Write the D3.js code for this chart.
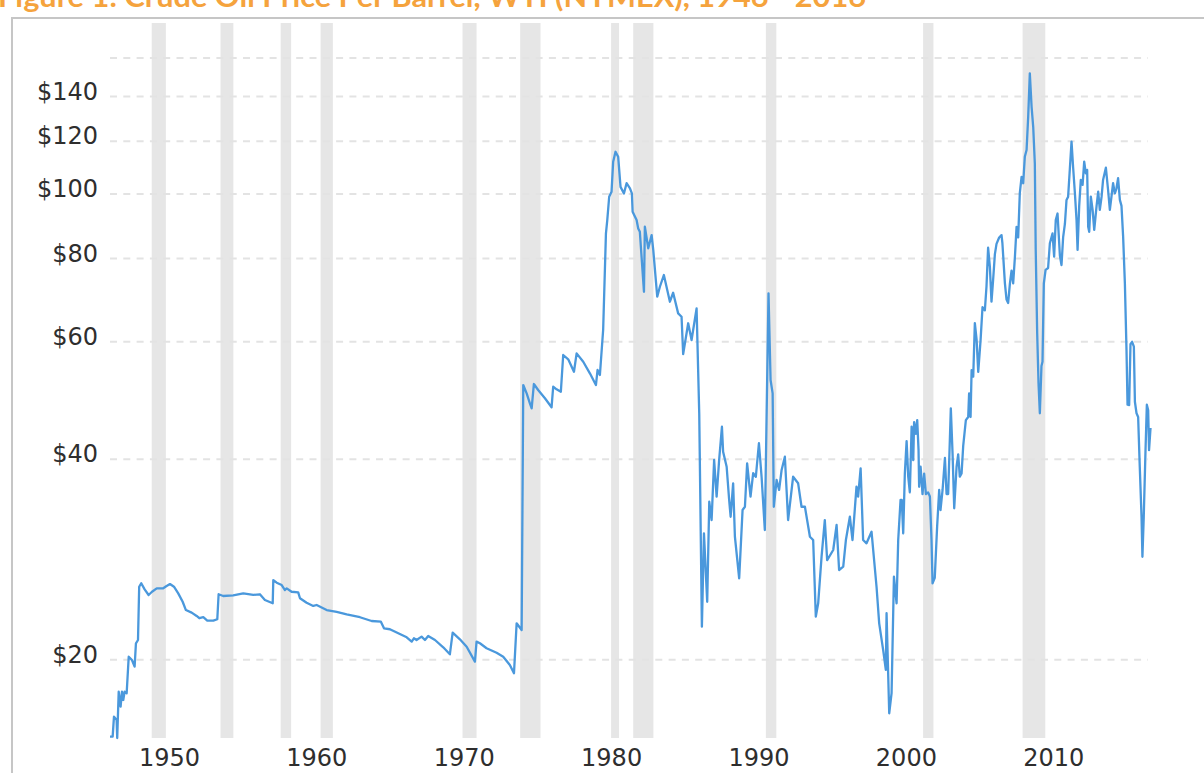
<head>
<meta charset="utf-8">
<style>
body {
  margin: 0;
  background: #fff;
  overflow: hidden;
}
.grid line {
  stroke: #e3e3e3;
  stroke-width: 2;
  stroke-dasharray: 7, 6.3;
}
.axis text {
  font-family: "DejaVu Sans", Verdana, sans-serif;
  font-size: 24px;
  fill: #2e2e2e;
}
.title {
  font-family: "Century Gothic", Lato, "Noto Sans", sans-serif;
  font-weight: bold;
  font-size: 28px;
  fill: #f5a33d;
}
</style>
<script src="https://cdn.jsdelivr.net/npm/d3@7"></script>
</head>
<body>
<div id="chart"></div>
<script>

var title = "Figure 1: Crude Oil Price Per Barrel, WTI (NYMEX), 1946 - 2016";

// monthly-ish samples, inflation adjusted $ per barrel
var years = [
  1946.00, 1946.18, 1946.27, 1946.45, 1946.49, 1946.59, 1946.72, 1946.81, 1946.90, 1946.99,
  1947.13, 1947.27, 1947.49, 1947.67, 1947.76, 1947.90, 1947.98, 1948.12, 1948.35, 1948.62,
  1948.85, 1949.17, 1949.61, 1949.84, 1950.07, 1950.34, 1950.63, 1950.93, 1951.15, 1951.54,
  1951.88, 1952.06, 1952.33, 1952.60, 1953.01, 1953.28, 1953.37, 1953.68, 1954.36, 1955.04,
  1955.72, 1956.17, 1956.51, 1957.04, 1957.08, 1957.31, 1957.65, 1957.87, 1957.99, 1958.32,
  1958.77, 1958.89, 1959.34, 1959.79, 1960.02, 1960.70, 1961.38, 1962.06, 1962.96, 1963.75,
  1964.38, 1964.59, 1964.99, 1965.56, 1966.13, 1966.47, 1966.62, 1966.80, 1967.14, 1967.37,
  1967.59, 1968.05, 1968.61, 1969.06, 1969.25, 1969.74, 1970.20, 1970.76, 1970.87, 1971.10,
  1971.55, 1972.23, 1972.68, 1973.13, 1973.41, 1973.59, 1973.93, 1974.04, 1974.27, 1974.49,
  1974.61, 1974.76, 1975.05, 1975.51, 1975.96, 1976.07, 1976.30, 1976.59, 1976.75, 1977.09,
  1977.48, 1977.66, 1978.11, 1978.56, 1978.97, 1979.08, 1979.24, 1979.46, 1979.65, 1979.74,
  1979.87, 1980.03, 1980.14, 1980.30, 1980.48, 1980.64, 1980.87, 1981.05, 1981.28, 1981.41,
  1981.46, 1981.73, 1981.84, 1981.95, 1982.23, 1982.29, 1982.52, 1982.75, 1982.86, 1983.13,
  1983.31, 1983.58, 1983.99, 1984.21, 1984.55, 1984.78, 1984.89, 1985.23, 1985.46, 1985.80,
  1985.98, 1986.16, 1986.30, 1986.52, 1986.66, 1986.82, 1986.99, 1987.16, 1987.33, 1987.52,
  1987.60, 1987.84, 1988.01, 1988.11, 1988.28, 1988.40, 1988.69, 1988.92, 1989.08, 1989.23,
  1989.46, 1989.64, 1989.82, 1990.03, 1990.21, 1990.43, 1990.68, 1990.82, 1990.96, 1991.04,
  1991.23, 1991.40, 1991.57, 1991.79, 1992.01, 1992.35, 1992.69, 1992.92, 1993.15, 1993.49,
  1993.71, 1993.89, 1994.05, 1994.28, 1994.50, 1994.66, 1995.07, 1995.30, 1995.47, 1995.75,
  1995.93, 1996.20, 1996.38, 1996.65, 1996.76, 1996.93, 1997.10, 1997.33, 1997.67, 1998.01,
  1998.19, 1998.46, 1998.64, 1998.69, 1998.87, 1999.03, 1999.19, 1999.37, 1999.48, 1999.64,
  1999.72, 1999.82, 1999.93, 2000.05, 2000.16, 2000.27, 2000.39, 2000.50, 2000.56, 2000.68,
  2000.77, 2000.86, 2000.90, 2001.00, 2001.13, 2001.24, 2001.36, 2001.51, 2001.63, 2001.74,
  2001.81, 2001.96, 2002.12, 2002.26, 2002.35, 2002.49, 2002.65, 2002.76, 2002.87, 2003.05,
  2003.17, 2003.28, 2003.44, 2003.55, 2003.66, 2003.78, 2003.89, 2004.07, 2004.23, 2004.29,
  2004.39, 2004.46, 2004.57, 2004.68, 2004.80, 2004.91, 2005.07, 2005.20, 2005.36, 2005.47,
  2005.58, 2005.70, 2005.81, 2005.92, 2006.04, 2006.15, 2006.33, 2006.49, 2006.55, 2006.72,
  2006.83, 2006.94, 2007.06, 2007.17, 2007.28, 2007.40, 2007.51, 2007.62, 2007.73, 2007.85,
  2007.96, 2008.07, 2008.19, 2008.30, 2008.41, 2008.53, 2008.64, 2008.75, 2008.81, 2008.91,
  2009.00, 2009.09, 2009.20, 2009.27, 2009.36, 2009.48, 2009.65, 2009.77, 2009.95, 2010.06,
  2010.17, 2010.29, 2010.45, 2010.56, 2010.67, 2010.79, 2010.90, 2011.01, 2011.13, 2011.24,
  2011.35, 2011.47, 2011.58, 2011.65, 2011.76, 2011.87, 2011.99, 2012.10, 2012.21, 2012.30,
  2012.37, 2012.44, 2012.55, 2012.67, 2012.78, 2012.94, 2013.05, 2013.16, 2013.28, 2013.38,
  2013.57, 2013.72, 2013.84, 2013.95, 2014.06, 2014.18, 2014.29, 2014.40, 2014.52, 2014.63,
  2014.74, 2014.86, 2014.97, 2015.04, 2015.15, 2015.24, 2015.35, 2015.47, 2015.54, 2015.65,
  2015.76, 2015.87, 2015.99, 2016.05, 2016.14, 2016.26, 2016.35, 2016.44, 2016.50, 2016.60
];

var prices = [
  15.31, 15.31, 16.41, 16.22, 15.24, 17.88, 16.98, 17.88, 17.38, 17.88,
  17.79, 20.18, 19.95, 19.50, 21.14, 21.38, 25.70, 26.01, 25.47, 24.98,
  25.26, 25.56, 25.56, 25.76, 25.94, 25.70, 25.12, 24.40, 23.71, 23.50,
  23.23, 23.05, 23.13, 22.86, 22.86, 22.97, 25.04, 24.89, 24.95, 25.12,
  24.98, 25.04, 24.55, 24.27, 26.30, 26.06, 25.85, 25.41, 25.56, 25.26,
  25.21, 24.70, 24.32, 24.05, 24.13, 23.71, 23.57, 23.36, 23.13, 22.83,
  22.78, 22.26, 22.19, 21.88, 21.58, 21.26, 21.51, 21.38, 21.63, 21.38,
  21.68, 21.38, 20.85, 20.35, 21.93, 21.43, 20.89, 19.84, 21.26, 21.14,
  20.78, 20.46, 20.18, 19.61, 19.06, 22.65, 22.13, 51.59, 50.13, 48.43,
  47.60, 51.77, 50.71, 49.28, 47.77, 51.29, 50.83, 50.41, 57.23, 56.38,
  54.02, 57.56, 55.92, 53.72, 51.59, 54.34, 53.41, 62.39, 87.13, 91.23,
  98.88, 100.6, 111.6, 115.5, 113.5, 102.3, 100.0, 103.6, 101.8, 100.0,
  93.87, 91.23, 88.61, 87.58, 71.20, 89.13, 82.75, 86.61, 82.27, 70.00,
  72.45, 75.45, 68.80, 70.96, 66.08, 65.31, 57.40, 63.86, 60.27, 67.24,
  46.79, 22.39, 30.91, 24.40, 34.47, 32.36, 39.82, 35.08, 39.82, 44.67,
  40.98, 38.90, 34.68, 32.73, 36.74, 30.55, 26.46, 33.50, 33.88, 39.37,
  35.08, 38.04, 37.58, 42.19, 37.58, 31.26, 70.81, 52.49, 50.13, 33.88,
  37.16, 35.91, 38.47, 40.27, 32.36, 37.58, 36.74, 33.88, 33.88, 30.55,
  30.20, 23.18, 24.27, 28.51, 32.36, 28.18, 29.18, 31.81, 27.23, 27.54,
  30.20, 32.73, 30.20, 36.31, 35.08, 38.69, 30.20, 29.86, 31.08, 25.70,
  22.65, 20.65, 19.28, 23.45, 16.60, 17.79, 26.61, 24.27, 30.20, 34.70,
  34.70, 30.90, 38.00, 42.50, 37.60, 35.60, 44.70, 39.80, 45.40, 43.60,
  45.70, 41.20, 36.30, 38.90, 35.40, 38.00, 35.40, 35.60, 35.10, 30.20,
  26.00, 26.50, 31.60, 35.90, 33.50, 35.90, 40.10, 35.40, 35.40, 47.60,
  40.60, 33.70, 38.90, 40.60, 37.60, 38.00, 41.80, 45.70, 46.20, 50.10,
  46.20, 54.30, 53.10, 63.90, 60.30, 54.00, 60.30, 67.50, 66.80, 72.50,
  82.90, 77.60, 68.80, 74.20, 81.10, 84.00, 85.90, 86.60, 84.20, 73.30,
  69.30, 68.50, 73.30, 76.60, 73.30, 80.40, 89.10, 85.90, 100.0, 105.9,
  103.6, 113.5, 116.2, 130.4, 151.4, 134.9, 125.9, 110.9, 82.30, 61.70,
  51.90, 46.80, 55.10, 55.90, 73.30, 76.80, 77.30, 84.20, 87.10, 80.40,
  91.20, 93.30, 80.70, 78.10, 85.90, 90.00, 97.80, 98.90, 109.3, 119.6,
  109.3, 100.0, 91.20, 82.30, 95.80, 104.8, 103.0, 111.6, 107.2, 108.5,
  89.10, 87.60, 98.90, 94.50, 88.20, 95.80, 100.6, 94.50, 98.90, 104.8,
  109.3, 101.2, 94.50, 98.90, 103.6, 100.0, 101.8, 105.4, 97.80, 95.80,
  86.30, 73.30, 58.20, 48.20, 48.15, 59.40, 59.90, 58.90, 48.70, 46.80,
  46.20, 38.90, 32.70, 28.50, 32.70, 41.20, 48.20, 47.30, 41.20, 44.50
];

// US recessions (NBER)
var recessionStart = [1948.83, 1953.50, 1957.58, 1960.29, 1969.92, 1973.83, 1980.00, 1981.50, 1990.50, 2001.17, 2007.92];
var recessionEnd   = [1949.79, 1954.37, 1958.29, 1961.12, 1970.87, 1975.21, 1980.54, 1982.87, 1991.21, 2001.87, 2009.46];

var yTicks = [20, 40, 60, 80, 100, 120, 140, 160];
var yTickLabels = ["$20", "$40", "$60", "$80", "$100", "$120", "$140", ""];
var xTicks = [1950, 1960, 1970, 1980, 1990, 2000, 2010];

var W = 1204, H = 773;
var plot = {left: 110, right: 1152, top: 23, bottom: 738};

var svg = d3.select("#chart").append("svg")
    .attr("width", W)
    .attr("height", H);

// title, partly cut off at the top like the source
svg.append("text")
    .attr("class", "title")
    .attr("x", -2)
    .attr("y", 7)
    .attr("textLength", 868)
    .attr("lengthAdjust", "spacingAndGlyphs")
    .text(title);

// frame
svg.append("rect")
    .attr("x", 12)
    .attr("y", 18)
    .attr("width", W + 20)
    .attr("height", H + 20)
    .attr("fill", "#fff")
    .attr("stroke", "#c6c6c6")
    .attr("stroke-width", 2);

var x = d3.scaleLinear().domain([1946, 2016.7]).range([plot.left, plot.right]);
var y = d3.scaleLog().domain([15.24, 180.2]).range([plot.bottom, plot.top]);

svg.selectAll(".band")
    .data(recessionStart)
  .enter().append("rect")
    .attr("class", "band")
    .attr("x", function(d) { return x(d); })
    .attr("y", plot.top)
    .attr("width", function(d, i) { return x(recessionEnd[i]) - x(d); })
    .attr("height", plot.bottom - plot.top)
    .attr("fill", "#e6e6e6");

var yAxis = svg.append("g")
    .attr("class", "axis grid")
    .attr("transform", "translate(" + plot.left + ",0)")
    .call(d3.axisLeft(y)
      .tickValues(yTicks)
      .tickSize(-(1148 - plot.left))
      .tickPadding(12)
      .tickFormat(function(d, i) { return yTickLabels[i]; }));
yAxis.select(".domain").remove();
yAxis.selectAll("text").attr("dy", "0.13em");

var xAxis = svg.append("g")
    .attr("class", "axis")
    .attr("transform", "translate(0," + plot.bottom + ")")
    .call(d3.axisBottom(x)
      .tickValues(xTicks)
      .tickSize(0)
      .tickFormat(d3.format("d")));
xAxis.select(".domain").remove();
xAxis.selectAll("text").attr("y", 28).attr("dy", 0);

var line = d3.line()
    .x(function(d) { return x(d[0]); })
    .y(function(d) { return y(d[1]); });

svg.append("path")
    .datum(d3.zip(years, prices))
    .attr("d", line)
    .attr("fill", "none")
    .attr("stroke", "#4a98dc")
    .attr("stroke-width", 2.3)
    .attr("stroke-linejoin", "round");

</script>
</body>
